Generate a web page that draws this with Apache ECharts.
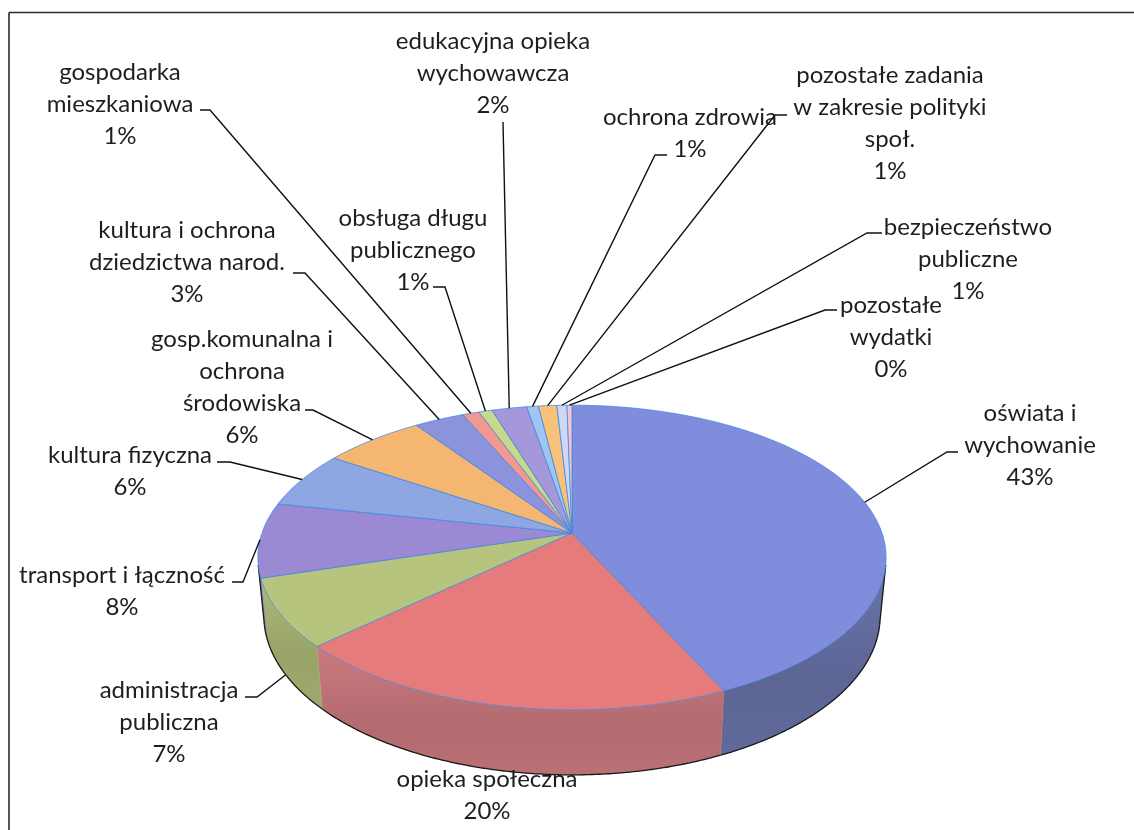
<!DOCTYPE html>
<html><head><meta charset="utf-8">
<script src="https://cdn.jsdelivr.net/npm/echarts@6/dist/echarts.min.js"></script>
<style>html,body{margin:0;padding:0;background:#fff}#chart{width:1134px;height:830px}</style>
</head><body><div id="chart"></div>
<script>
// ---- data ----
const categories = [
  "oświata i\nwychowanie",
  "opieka społeczna",
  "administracja\npubliczna",
  "transport i łączność",
  "kultura fizyczna",
  "gosp.komunalna i\nochrona\nśrodowiska",
  "kultura i ochrona\ndziedzictwa narod.",
  "gospodarka\nmieszkaniowa",
  "obsługa długu\npublicznego",
  "edukacyjna opieka\nwychowawcza",
  "ochrona zdrowia",
  "pozostałe zadania\nw zakresie polityki\nspoł.",
  "bezpieczeństwo\npubliczne",
  "pozostałe\nwydatki"
];
const values = [43.0, 19.9, 7.2, 7.9, 6.0, 6.1, 3.0, 1.0, 0.8, 2.1, 0.7, 1.1, 0.6, 0.3];

// ---- style / layout ----
const topColors = ["#7f8ddc","#e67b7c","#b6c47e","#9b89d4","#8ea7e2","#f5b672","#8b93dc",
                   "#f29891","#c7da8b","#a597d9","#9fc5f0","#f8c27b","#cfd7f4","#f6c5d3"];
const sideColors = ["#636d9f","#c07378","#a3af70","#8677bb","#7a8fc4","#d69c5f","#7880bf",
                    "#d08580","#aebf78","#8f82bd","#88aad0","#d6a66a","#b2bad6","#d6a9b6"];
// label block centre
const labelPos = [[1030,445],[487,795],[169,722],[122,591],[130,471],[242,387],[187,262],
                  [120,104],[413,250],[493,73],[690,133],[890,123],[968,259],[891,337]];
// leader start [x, y, horizontal tick]; null = no leader
const labelAnchor = [[958,452,-11],null,[245,697,12],[232,582,11],[217,462,13],[305,410,8],[293,273,12],
                     [200,110,10],[433,287,12],[503,122,0],[667,155,-12],[787,115,-12],[882,233,-15],[837,310,-12]];

// ---- projection of the 3D pie ----
const CX = 572, CY = 533, S = 310, D = 5.46, ALPHA = 28.6 * Math.PI / 180, H = 0.2175;
const sA = Math.sin(ALPHA), cA = Math.cos(ALPHA);
function proj(theta, h) {
  const x = Math.sin(theta), w = Math.cos(theta);
  const v = w * sA + h * cA;
  const dist = D + w * cA - h * sA;
  return [CX + S * D * x / dist, CY - S * D * v / dist];
}
const VIS0 = Math.acos(-1 / (D * cA)), VIS1 = 2 * Math.PI - VIS0;

const total = values.reduce((a, b) => a + b, 0);
const starts = [];
(function () { let acc = 0; values.forEach(v => { starts.push(acc / total * 2 * Math.PI); acc += v; }); })();
const STEP = 0.5 * Math.PI / 180;

function shade(hex, f) {
  const n = parseInt(hex.slice(1), 16);
  const r = Math.min(255, Math.round(((n >> 16) & 255) * f));
  const g = Math.min(255, Math.round(((n >> 8) & 255) * f));
  const b = Math.min(255, Math.round((n & 255) * f));
  return 'rgb(' + r + ',' + g + ',' + b + ')';
}

function renderSide(params, api) {
  const i = params.dataIndex;
  const a0 = starts[i], a1 = a0 + api.value(1) / total * 2 * Math.PI;
  const lo = Math.max(a0, VIS0), hi = Math.min(a1, VIS1);
  if (hi <= lo) return { type: 'group', children: [] };
  const n = Math.max(2, Math.ceil((hi - lo) / STEP));
  const top = [], bot = [];
  for (let k = 0; k <= n; k++) {
    const t = lo + (hi - lo) * k / n;
    top.push(proj(t, 0)); bot.push(proj(t, -H));
  }
  const pts = top.concat(bot.slice().reverse());
  const c = sideColors[i];
  const children = [
    { type: 'polygon', shape: { points: pts },
      style: { fill: new echarts.graphic.LinearGradient(0, 0, 0, 1, [
        { offset: 0, color: shade(c, 1.06) }, { offset: 0.6, color: shade(c, 0.93) }, { offset: 1, color: shade(c, 0.97) }]),
        stroke: c, lineWidth: 0.5 } },
    { type: 'polyline', shape: { points: bot }, style: { stroke: '#1a1a1a', lineWidth: 1.3, fill: null } }
  ];
  if (a0 <= VIS0 && a1 >= VIS0) children.push({ type: 'line', shape: { x1: proj(VIS0,0)[0], y1: proj(VIS0,0)[1], x2: proj(VIS0,-H)[0], y2: proj(VIS0,-H)[1] }, style: { stroke: '#1a1a1a', lineWidth: 1.3 } });
  if (a0 <= VIS1 && a1 >= VIS1) children.push({ type: 'line', shape: { x1: proj(VIS1,0)[0], y1: proj(VIS1,0)[1], x2: proj(VIS1,-H)[0], y2: proj(VIS1,-H)[1] }, style: { stroke: '#1a1a1a', lineWidth: 1.3 } });
  return { type: 'group', children: children };
}

function renderTop(params, api) {
  const i = params.dataIndex;
  const a0 = starts[i], a1 = a0 + api.value(1) / total * 2 * Math.PI;
  const n = Math.max(2, Math.ceil((a1 - a0) / STEP));
  const pts = [[CX, CY]];
  for (let k = 0; k <= n; k++) pts.push(proj(a0 + (a1 - a0) * k / n, 0));
  return { type: 'polygon', shape: { points: pts },
    style: { fill: topColors[i], stroke: 'rgba(60,135,225,0.85)', lineWidth: 0.9 } };
}

function renderLabel(params, api) {
  const i = params.dataIndex;
  const v = api.value(1);
  const a0 = starts[i], a1 = a0 + v / total * 2 * Math.PI, m = (a0 + a1) / 2;
  const pct = Math.round(v / total * 100) + '%';
  const children = [{
    type: 'text', x: labelPos[i][0], y: labelPos[i][1],
    style: { text: categories[i] + '\n' + pct, font: '24px Lato', fill: '#1e1e1e',
      align: 'center', verticalAlign: 'middle', textAlign: 'center', textVerticalAlign: 'middle', lineHeight: 32 }
  }];
  const an = labelAnchor[i];
  if (an) {
    const p = (m > VIS0 && m < VIS1) ? proj(m, -H) : proj(m, 0);
    children.push({ type: 'polyline', shape: { points: [[an[0], an[1]], [an[0] + an[2], an[1]], p] },
      style: { stroke: '#111', lineWidth: 1.4, fill: null } });
  }
  return { type: 'group', children: children };
}

const seriesData = values.map((v, i) => [i, v]);
const chart = echarts.init(document.getElementById('chart'), null, { renderer: 'canvas' });
chart.setOption({
  backgroundColor: '#ffffff',
  animation: false,
  graphic: [
    { type: 'line', shape: { x1: 9, y1: 12.5, x2: 1134, y2: 12.5 }, style: { stroke: '#2a2a2a', lineWidth: 1.6 } },
    { type: 'line', shape: { x1: 9, y1: 12.5, x2: 9, y2: 830 }, style: { stroke: '#2a2a2a', lineWidth: 1.6 } }
  ],
  series: [
    { type: 'custom', coordinateSystem: 'none', renderItem: renderSide, data: seriesData, z: 1, silent: true },
    { type: 'custom', coordinateSystem: 'none', renderItem: renderTop, data: seriesData, z: 2, silent: true },
    { type: 'custom', coordinateSystem: 'none', renderItem: renderLabel, data: seriesData, z: 3, silent: true }
  ]
});
</script>
</body></html>
